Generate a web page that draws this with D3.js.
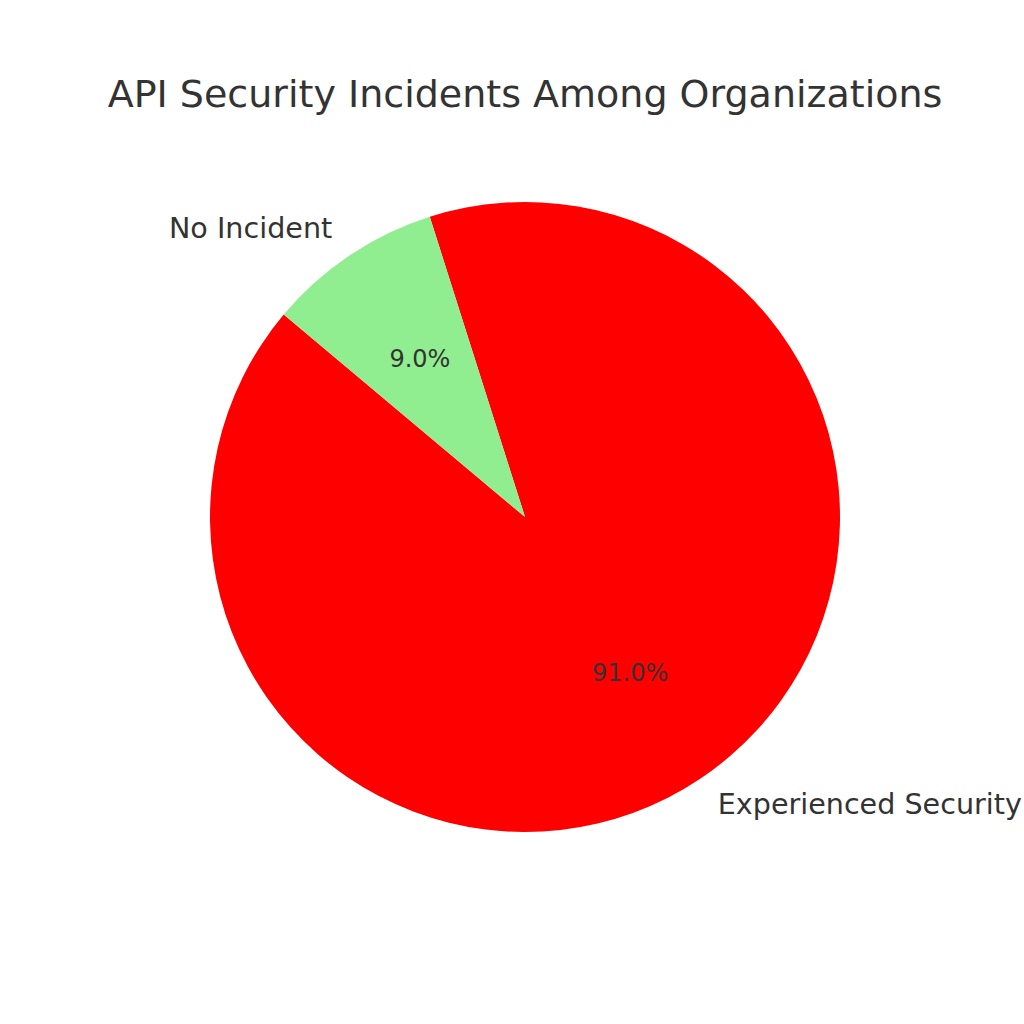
<!DOCTYPE html>
<html>
<head>
<meta charset="utf-8">
<script src="https://cdn.jsdelivr.net/npm/d3@7"></script>
<style>
  html, body { margin: 0; padding: 0; background: #ffffff; }
  svg { display: block; }
</style>
</head>
<body>
<svg id="chart" width="1024" height="1024"></svg>
<script>
const title = "API Security Incidents Among Organizations";
const categories = ["Experienced Security Incident", "No Incident"];
const values = [91, 9];
const colors = ["#ff0000", "#90ee90"];
const startAngleDeg = 140; // matplotlib startangle (counter-clockwise from +x)

const svg = d3.select("#chart");
const W = 1024, H = 1024;
const cx = 525, cy = 517, R = 315;
const textColor = "#333333";
const font = "DejaVu Sans, sans-serif";

svg.append("rect").attr("width", W).attr("height", H).attr("fill", "#ffffff");

svg.append("text")
  .attr("x", cx).attr("y", 107)
  .attr("text-anchor", "middle")
  .attr("font-family", font).attr("font-size", 38)
  .attr("fill", textColor)
  .text(title);

const total = d3.sum(values);
const toRad = d => d * Math.PI / 180;
let acc = startAngleDeg;
const slices = values.map((v, i) => {
  const a0 = acc, a1 = acc + v / total * 360;
  acc = a1;
  return { i, v, mplStart: a0, mplEnd: a1, mid: (a0 + a1) / 2 };
});

const arc = d3.arc().innerRadius(0).outerRadius(R);
const g = svg.append("g").attr("transform", `translate(${cx},${cy})`);

g.selectAll("path.slice").data(slices).enter().append("path")
  .attr("class", "slice")
  .attr("d", d => arc({ startAngle: toRad(90 - d.mplEnd), endAngle: toRad(90 - d.mplStart) }))
  .attr("fill", d => colors[d.i]);

g.selectAll("text.lab").data(slices).enter().append("text")
  .attr("class", "lab")
  .attr("x", d => 1.1 * R * Math.cos(toRad(d.mid)))
  .attr("y", d => -1.1 * R * Math.sin(toRad(d.mid)) - 1)
  .attr("text-anchor", d => Math.cos(toRad(d.mid)) >= 0 ? "start" : "end")
  .attr("dominant-baseline", "central")
  .attr("font-family", font).attr("font-size", 28.6)
  .attr("fill", textColor)
  .text(d => categories[d.i]);

g.selectAll("text.pct").data(slices).enter().append("text")
  .attr("class", "pct")
  .attr("x", d => 0.6 * R * Math.cos(toRad(d.mid)))
  .attr("y", d => -0.6 * R * Math.sin(toRad(d.mid)) - 1)
  .attr("text-anchor", "middle")
  .attr("dominant-baseline", "central")
  .attr("font-family", font).attr("font-size", 24)
  .attr("fill", textColor)
  .text(d => (d.v / total * 100).toFixed(1) + "%");
</script>
</body>
</html>
